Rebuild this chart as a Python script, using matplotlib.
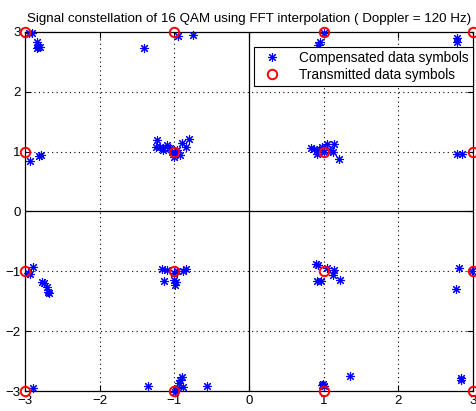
import matplotlib
matplotlib.use("Agg")
import matplotlib.pyplot as plt
from matplotlib.lines import Line2D

plt.rcParams['font.family'] = ['Liberation Sans', 'DejaVu Sans']

# Equalised symbols after FFT-interpolated channel estimation
comp_re = [-2.91, -2.95, -2.835, -2.82, -2.835, -2.80,
           -1.406, -0.947, -0.754,
           -2.93, -2.81, -2.78,
           -1.228, -1.245, -1.148, -1.10, -1.058, -0.96, -0.924, -0.90, -0.844, -0.80,
           -1.01, -1.148, -1.03, -0.99, -1.19,
           0.951, 0.928, 1.0, 2.78, 2.78,
           0.83, 0.94, 1.049, 1.138, 1.12, 1.21, 0.915, 0.973, 1.085, 0.87, 1.0,
           2.78, 2.85,
           -2.956, -2.89, -2.776, -2.75, -2.71, -2.69, -2.68, -2.93,
           -1.16, -1.094, -1.138, -1.01, -0.991, -0.98, -0.88, -0.844, -0.96, -1.0,
           -2.89,
           -1.348, -0.566, -0.90, -0.92, -0.94, -0.89, -0.985, -0.96,
           0.897, 0.93, 1.04, 1.138, 1.12, 1.219, 0.915, 0.96,
           2.817, 2.772, 2.98,
           0.973, 1.0, 0.985, 1.353,
           2.835, 2.84]
comp_im = [2.98, 2.99, 2.84, 2.75, 2.73, 2.75,
           2.73, 2.94, 2.95,
           0.84, 0.93, 0.95,
           1.195, 1.083, 1.056, 1.11, 1.056, 1.02, 0.944, 1.14, 1.083, 1.207,
           0.916, 1.03, 1.0, 0.97, 1.07,
           2.84, 2.78, 2.99, 2.895, 2.84,
           1.067, 1.03, 1.128, 1.128, 1.0, 0.877, 0.961, 1.083, 1.028, 1.05, 1.0,
           0.961, 0.956,
           -1.033, -0.933, -1.18, -1.2, -1.267, -1.35, -1.36, -1.05,
           -0.966, -0.978, -1.16, -1.145, -1.228, -1.18, -0.994, -0.961, -1.0, -1.02,
           -2.945,
           -2.917, -2.917, -2.76, -2.81, -2.87, -2.93, -3.01, -2.95,
           -0.883, -0.9, -0.939, -0.978, -1.06, -1.145, -1.16, -1.16,
           -0.939, -1.295, -1.0,
           -2.90, -2.92, -2.88, -2.745,
           -2.78, -2.81]

# Ideal 16-QAM constellation
qam_levels = [-3, -1, 1, 3]
tx_re = [i for i in qam_levels for q in qam_levels]
tx_im = [q for i in qam_levels for q in qam_levels]

ticks = [-3, -2, -1, 0, 1, 2, 3]

fig = plt.figure(figsize=(4.77, 4.11), dpi=100)
ax = fig.add_axes([25 / 477, 20 / 411, 448 / 477, 359 / 411])

# grid and zero axes
for t in [-2, -1, 1, 2]:
    ax.axvline(t, color='black', ls=(0, (1, 3)), lw=0.8, zorder=0)
    ax.axhline(t, color='black', ls=(0, (1, 3)), lw=0.8, zorder=0)
ax.axvline(0, color='black', lw=0.9, zorder=0)
ax.axhline(0, color='black', lw=0.9, zorder=0)

star = (8, 2, 0)
ax.plot(comp_re, comp_im, ls='none', marker=star, ms=6.5, mew=0.8,
        color='#0000ff', clip_on=False, zorder=3)
ax.plot(tx_re, tx_im, ls='none', marker='o', ms=6.8, mew=1.4,
        mfc='none', mec='#ff0000', clip_on=False, zorder=4)

ax.set_xlim(-3, 3)
ax.set_ylim(-3, 3)
ax.set_xticks(ticks)
ax.set_yticks(ticks)
ax.tick_params(direction='in', length=4, width=0.8, labelsize=9.5,
               top=True, right=True, pad=3)
for s in ax.spines.values():
    s.set_linewidth(0.9)

ax.set_title('Signal constellation of 16 QAM using FFT interpolation ( Doppler = 120 Hz)',
             fontsize=9.6, pad=7)

handles = [Line2D([], [], ls='none', marker=star, ms=6.5, mew=0.8, color='#0000ff'),
           Line2D([], [], ls='none', marker='o', ms=6.8, mew=1.4, mfc='none', mec='#ff0000')]
leg = ax.legend(handles, ['Compensated data symbols', 'Transmitted data symbols'],
                loc='upper right', bbox_to_anchor=(1.0, 0.958), borderaxespad=0,
                fontsize=9.8, fancybox=False, framealpha=1, edgecolor='black',
                borderpad=0.3, handletextpad=1.0, labelspacing=0.2, handlelength=2.0)
leg.get_frame().set_linewidth(0.8)

fig.savefig('out.png', dpi=100)
